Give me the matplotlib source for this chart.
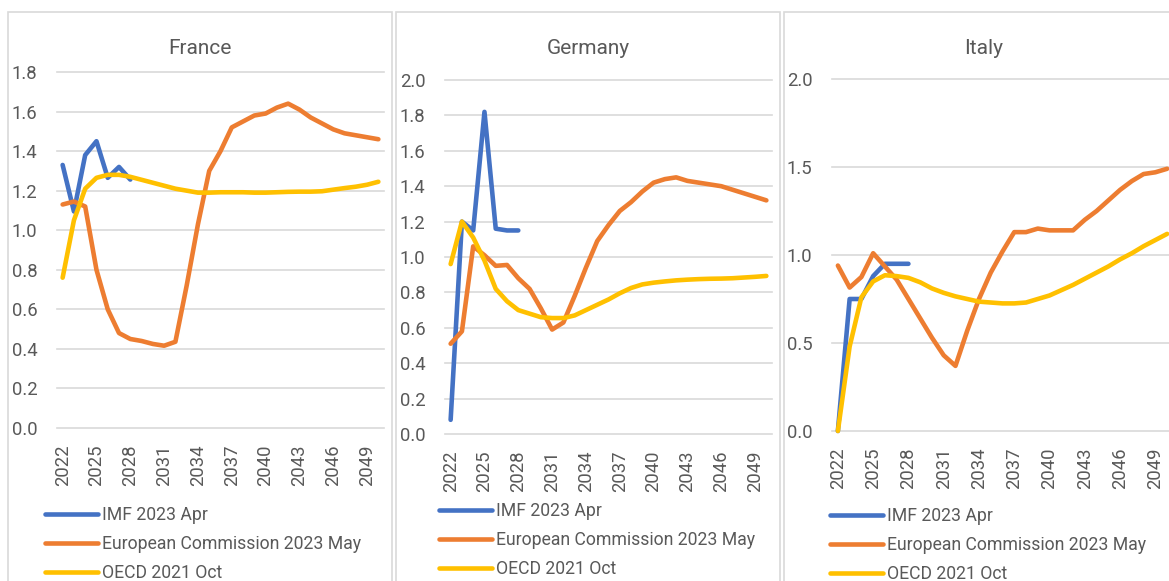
import matplotlib.pyplot as plt
from matplotlib.patches import Rectangle

years = list(range(2022, 2051))
tick_years = years[::3][:10]

countries = ["France", "Germany", "Italy"]
series_names = ["IMF 2023 Apr", "European Commission 2023 May", "OECD 2021 Oct"]

france_imf = [1.33, 1.095, 1.38, 1.45, 1.265, 1.32, 1.256]
france_ec = [1.13, 1.145, 1.12, 0.80, 0.60, 0.48, 0.45, 0.44, 0.425, 0.416, 0.436,
             0.72, 1.03, 1.30, 1.40, 1.52, 1.55, 1.58, 1.59, 1.62, 1.64, 1.61,
             1.57, 1.54, 1.51, 1.49, 1.48, 1.47, 1.46]
france_oecd = [0.76, 1.05, 1.21, 1.265, 1.28, 1.28, 1.27, 1.255, 1.24, 1.225, 1.21,
               1.20, 1.19, 1.19, 1.192, 1.192, 1.192, 1.19, 1.19, 1.192, 1.194, 1.195,
               1.195, 1.197, 1.205, 1.213, 1.22, 1.23, 1.245]

germany_imf = [0.08, 1.20, 1.15, 1.82, 1.16, 1.15, 1.15]
germany_ec = [0.51, 0.58, 1.06, 1.01, 0.95, 0.955, 0.88, 0.82, 0.71, 0.59, 0.63,
              0.78, 0.94, 1.09, 1.18, 1.26, 1.31, 1.37, 1.42, 1.44, 1.45, 1.43,
              1.42, 1.41, 1.40, 1.38, 1.36, 1.34, 1.32]
germany_oecd = [0.96, 1.20, 1.11, 0.98, 0.82, 0.75, 0.70, 0.68, 0.66, 0.655, 0.655,
                0.67, 0.70, 0.73, 0.76, 0.795, 0.825, 0.845, 0.855, 0.862, 0.868, 0.872,
                0.875, 0.877, 0.878, 0.880, 0.884, 0.888, 0.893]

italy_imf = [0.0, 0.75, 0.75, 0.88, 0.95, 0.95, 0.95]
italy_ec = [0.94, 0.815, 0.875, 1.01, 0.935, 0.86, 0.75, 0.64, 0.53, 0.43, 0.37,
            0.57, 0.75, 0.90, 1.02, 1.13, 1.13, 1.15, 1.14, 1.14, 1.14, 1.20,
            1.25, 1.31, 1.37, 1.42, 1.46, 1.47, 1.49]
italy_oecd = [0.0, 0.48, 0.76, 0.85, 0.885, 0.88, 0.87, 0.845, 0.81, 0.785, 0.765,
              0.75, 0.735, 0.73, 0.725, 0.725, 0.73, 0.75, 0.77, 0.80, 0.83, 0.865,
              0.90, 0.935, 0.975, 1.01, 1.05, 1.085, 1.12]

data = {
    "France": [france_imf, france_ec, france_oecd],
    "Germany": [germany_imf, germany_ec, germany_oecd],
    "Italy": [italy_imf, italy_ec, italy_oecd],
}
yticks = {
    "France": [0.0, 0.2, 0.4, 0.6, 0.8, 1.0, 1.2, 1.4, 1.6, 1.8],
    "Germany": [0.0, 0.2, 0.4, 0.6, 0.8, 1.0, 1.2, 1.4, 1.6, 1.8, 2.0],
    "Italy": [0.0, 0.5, 1.0, 1.5, 2.0],
}

colors = ["#4472C4", "#ED7D31", "#FFC000"]
grey = "#595959"
grid = "#D9D9D9"

W, H = 1169, 581
plt.rcParams['font.family'] = ['Roboto', 'DejaVu Sans']

fig = plt.figure(figsize=(W / 100, H / 100), dpi=100)


def box(left, top, w, h):
    # pixel box (from the top-left) -> figure fraction
    return [left / W, 1 - (top + h) / H, w / W, h / H]


# layout in pixels: frame (left, right), plot (left, top, w, h), title x, legend anchor
layout = {
    "France": dict(frame=(8, 392), plot=(57, 72, 327, 356), tx=200, leg=(45, 506)),
    "Germany": dict(frame=(396, 780), plot=(445, 80, 327, 354), tx=588, leg=(439, 502)),
    "Italy": dict(frame=(784, 1184), plot=(832, 79, 341, 352), tx=984, leg=(830, 507)),
}

for c in countries:
    lay = layout[c]
    fl, fr = lay["frame"]
    fig.patches.append(Rectangle((fl / W, -0.05), (fr - fl) / W, 1.05 - 12 / H,
                                 transform=fig.transFigure, fill=False,
                                 edgecolor=grid, lw=1.2, zorder=0))
    fig.text(lay["tx"] / W, 1 - 48 / H, c, ha='center', va='center',
             fontsize=15, color=grey)

    ax = fig.add_axes(box(*lay["plot"]))
    ax.set_facecolor('none')
    x = list(range(len(years)))
    handles = []
    for vals, name, col in zip(data[c], series_names, colors):
        h, = ax.plot(x[:len(vals)], vals, color=col, lw=3.3, label=name,
                     solid_capstyle='round', solid_joinstyle='round', clip_on=False)
        handles.append(h)

    yt = yticks[c]
    ax.set_ylim(yt[0], yt[-1])
    ax.set_xlim(-0.5, len(years) - 0.5)
    ax.set_yticks(yt)
    ax.set_yticklabels([f"{v:.1f}" for v in yt])
    ax.set_xticks([years.index(y) for y in tick_years])
    ax.set_xticklabels([str(y) for y in tick_years], rotation=90)
    ax.tick_params(axis='y', length=0, pad=14, labelsize=13.3, labelcolor=grey)
    ax.tick_params(axis='x', length=0, pad=12, labelsize=13.3, labelcolor=grey)
    for s in ax.spines.values():
        s.set_visible(False)
    for v in yt:
        ax.axhline(v, color=grid, lw=1.2, zorder=0, clip_on=False)

    lx, ly = lay["leg"]
    ax.legend(handles=handles, loc='upper left',
              bbox_to_anchor=(lx / W, 1 - ly / H), bbox_transform=fig.transFigure,
              frameon=False, fontsize=12.7, labelcolor=grey, borderpad=0,
              borderaxespad=0, handlelength=3.0, handletextpad=0.25,
              labelspacing=0.62)

fig.savefig("out.png", dpi=100)
